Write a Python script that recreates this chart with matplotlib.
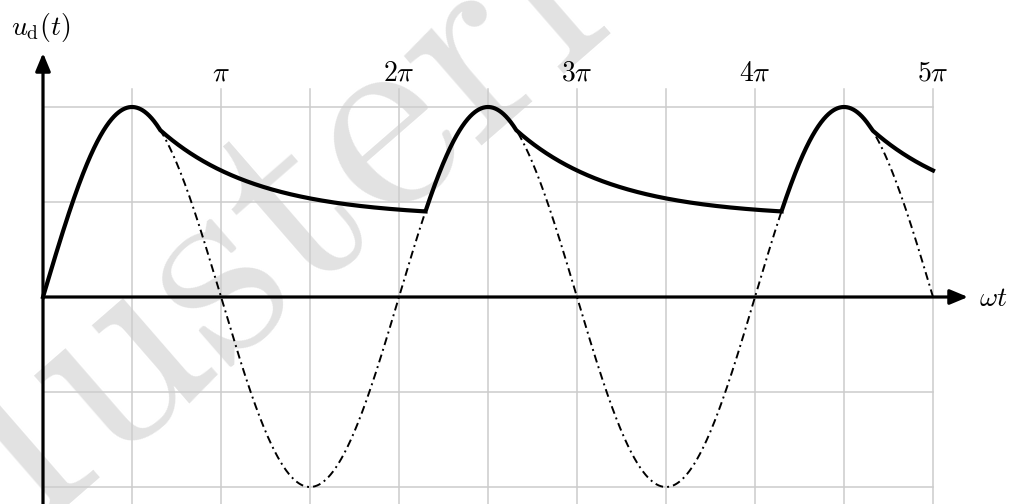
import numpy as np
import matplotlib
matplotlib.use("Agg")
import matplotlib.pyplot as plt

plt.rcParams["mathtext.fontset"] = "cm"

# --- values -------------------------------------------------------------
PERIODS_SHOWN = 2.5                      # omega*t runs from 0 to 5*pi
tick_multiples = [1, 2, 3, 4, 5]         # labelled multiples of pi
tick_labels = [r"$\pi$", r"$2\pi$", r"$3\pi$", r"$4\pi$", r"$5\pi$"]
hgrid_levels = [-1.0, -0.5, 0.5, 1.0]    # horizontal grid (amplitude units)
u_peak = 1.0                             # amplitude of the source voltage
phi_off = 2.07                           # phase at which the diode stops conducting
u_floor = 0.42                           # level the discharge curve tends to
k_discharge = 0.58                       # discharge rate per radian
watermark = "Musterlösung"

# --- geometry (pixels) --------------------------------------------------
W, H = 1016, 504
X0, Y0 = 43, 297          # origin
SX = 890 / (5 * np.pi)    # px per radian
SY = 190                  # px per unit amplitude

fig = plt.figure(figsize=(W / 100, H / 100), dpi=100)
ax = fig.add_axes([0, 0, 1, 1])
ax.set_xlim(-X0 / SX, (W - X0) / SX)
ax.set_ylim(-(H - Y0) / SY, Y0 / SY)
ax.axis("off")

t_end = 2 * np.pi * PERIODS_SHOWN

# watermark behind everything else in the axes
ax.text(-85 / W, 1 - 630 / H, watermark, transform=fig.transFigure,
        rotation=41, rotation_mode="anchor", ha="left", va="baseline",
        fontsize=198, color="#e2e2e2", family=["cmr10", "DejaVu Serif"],
        zorder=0, clip_on=False)

# grid
grid_kw = dict(color="#cccccc", lw=1.1, zorder=1)
top_grid = (Y0 - 89) / SY
for k in range(1, 11):
    x = k * np.pi / 2
    ax.plot([x, x], [ax.get_ylim()[0], top_grid], **grid_kw)
for v in hgrid_levels:
    ax.plot([0, t_end], [v, v], **grid_kw)

# axes with arrow heads
arrow_kw = dict(arrowstyle="-|>,head_length=0.72,head_width=0.3", lw=2.3,
                color="black", shrinkA=0, shrinkB=0, mutation_scale=15)
ax.annotate("", xy=((968 - X0) / SX, 0), xytext=(0, 0), arrowprops=arrow_kw, zorder=4)
ax.annotate("", xy=(0, (Y0 - 53) / SY), xytext=(0, ax.get_ylim()[0] - 0.1),
            arrowprops=arrow_kw, zorder=4)

# source voltage (dash-dot)
t = np.linspace(0, t_end, 3000)
ax.plot(t, u_peak * np.sin(t), color="black", lw=1.4,
        dashes=(4.1, 2.1, 1.0, 2.1), zorder=3)

# rectified and smoothed voltage
def discharge(tt, t0):
    u0 = u_peak * np.sin(t0)
    return u_floor + (u0 - u_floor) * np.exp(-k_discharge * (tt - t0))

seg_t, seg_u = [], []
t_on = 0.0
n = 0
while t_on < t_end:
    t_off = 2 * np.pi * n + phi_off
    tc = np.linspace(t_on, min(t_off, t_end), 300)
    seg_t.append(tc)
    seg_u.append(u_peak * np.sin(tc))
    if t_off >= t_end:
        break
    # next conduction start: first point where the source exceeds the capacitor
    search = np.linspace(t_off + 1e-3, t_off + 2 * np.pi, 20000)
    diff = u_peak * np.sin(search) - discharge(search, t_off)
    idx = np.argmax((diff[1:] >= 0) & (diff[:-1] < 0))
    t_next = search[idx + 1]
    td = np.linspace(t_off, min(t_next, t_end), 400)
    seg_t.append(td)
    seg_u.append(discharge(td, t_off))
    t_on = t_next
    n += 1

ax.plot(np.concatenate(seg_t), np.concatenate(seg_u), color="black",
        lw=3.0, solid_joinstyle="miter", zorder=5)

# labels
fs = 20
for m, lab in zip(tick_multiples, tick_labels):
    ax.text(m * np.pi, (Y0 - 80) / SY, lab, ha="center", va="baseline",
            fontsize=fs, zorder=6)
ax.text(-2 / SX, (Y0 - 35) / SY, r"$u_\mathrm{d}(t)$", ha="center",
        va="baseline", fontsize=fs, zorder=6)
ax.text((979 - X0) / SX, (Y0 - 306) / SY, r"$\omega t$", ha="left",
        va="baseline", fontsize=fs, zorder=6)

fig.savefig("out.png", dpi=100)
